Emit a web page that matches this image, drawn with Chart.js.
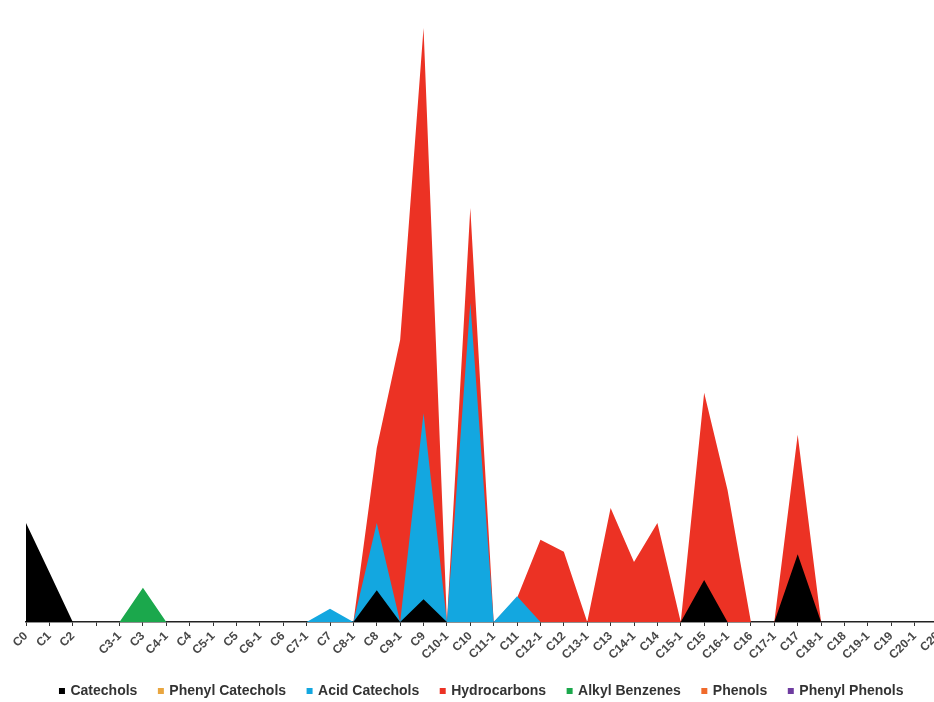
<!DOCTYPE html>
<html>
<head>
<meta charset="utf-8">
<script src="https://cdn.jsdelivr.net/npm/chart.js@4.4.1/dist/chart.umd.min.js"></script>
<style>
  html, body { margin: 0; padding: 0; background: #ffffff; overflow: hidden; }
  #wrap { position: absolute; left: 0; top: 0; width: 960px; height: 702px; }
</style>
</head>
<body>
<div id="wrap"><canvas id="c" width="960" height="702"></canvas></div>
<script>
const categories = ["C0","C1","C2","","C3-1","C3","C4-1","C4","C5-1","C5","C6-1","C6","C7-1","C7","C8-1","C8","C9-1","C9","C10-1","C10","C11-1","C11","C12-1","C12","C13-1","C13","C14-1","C14","C15-1","C15","C16-1","C16","C17-1","C17","C18-1","C18","C19-1","C19","C20-1","C20"];

const catechols      = [16.5,8.3,0,0,0,0,0,0,0,0,0,0,0,0,0,5.3,0,3.8,0,0,0,0,0,0,0,0,0,0,0,7,0,0,0,11.3,0,0,0,0,0,0];
const phenylCatechols= [0,0,0,0,0,0,0,0,0,0,0,0,0,0,0,0,0,0,0,0,0,0,0,0,0,0,0,0,0,0,0,0,0,0,0,0,0,0,0,0];
const acidCatechols  = [0,0,0,0,0,0,0,0,0,0,0,0,0,2.2,0,16.5,0,34.8,0,53.2,0,4.3,0,0,0,0,0,0,0,0,0,0,0,0,0,0,0,0,0,0];
const hydrocarbons   = [0,0,0,0,0,0,0,0,0,0,0,0,0,0,0,29,47,99,0,69,0,4,13.7,11.7,0,19,10,16.5,0,38.2,22,0,0,31.2,0,0,0,0,0,0];
const alkylBenzenes  = [0,0,0,0,0,5.7,0,0,0,0,0,0,0,0,0,0,0,0,0,0,0,0,0,0,0,0,0,0,0,0,0,0,0,0,0,0,0,0,0,0];
const phenols        = [0,0,0,0,0,0,0,0,0,0,0,0,0,0,0,0,0,0,0,0,0,0,0,0,0,0,0,0,0,0,0,0,0,0,0,0,0,0,0,0];
const phenylPhenols  = [0,0,0,0,0,0,0,0,0,0,0,0,0,0,0,0,0,0,0,0,0,0,0,0,0,0,0,0,0,0,0,0,0,0,0,0,0,0,0,0];

const seriesNames = ["Catechols","Phenyl Catechols","Acid Catechols","Hydrocarbons","Alkyl Benzenes","Phenols","Phenyl Phenols"];
const seriesData = [catechols, phenylCatechols, acidCatechols, hydrocarbons, alkylBenzenes, phenols, phenylPhenols];
const seriesColors = ["#000000","#E9A640","#13A7E0","#EC3224","#1BA84C","#F06A2B","#6E3CA0"];

const datasets = seriesNames.map((name, i) => ({
  label: name,
  data: seriesData[i],
  backgroundColor: seriesColors[i],
  borderColor: seriesColors[i],
  borderWidth: 0,
  fill: 'origin',
  pointRadius: 0,
  pointHoverRadius: 0,
  pointStyle: 'rect',
  tension: 0
}));

new Chart(document.getElementById('c'), {
  type: 'line',
  data: { labels: categories, datasets: datasets },
  options: {
    responsive: false,
    animation: false,
    layout: { padding: { left: 26, right: 22, top: 22, bottom: -6 } },
    plugins: {
      tooltip: { enabled: false },
      legend: {
        position: 'bottom',
        labels: {
          usePointStyle: true,
          pointStyle: 'rect',
          boxWidth: 3,
          boxHeight: 6,
          padding: 22,
          color: '#333333',
          font: { family: '"Liberation Sans", Arial, sans-serif', size: 14, weight: 'bold' }
        }
      }
    },
    scales: {
      y: { display: false, min: 0, max: 100 },
      x: {
        offset: false,
        grid: { display: true, drawOnChartArea: false, drawTicks: true, tickLength: 4, color: '#333333', lineWidth: 1 },
        border: { display: true, color: '#222222', width: 1.5 },
        ticks: {
          autoSkip: false, maxRotation: 45, minRotation: 45, padding: 3,
          color: '#484848',
          font: { family: '"Liberation Sans", Arial, sans-serif', size: 12, weight: 'bold' }
        },
        afterFit: (s) => { s.height = 40; }
      }
    }
  }
});
</script>
</body>
</html>
